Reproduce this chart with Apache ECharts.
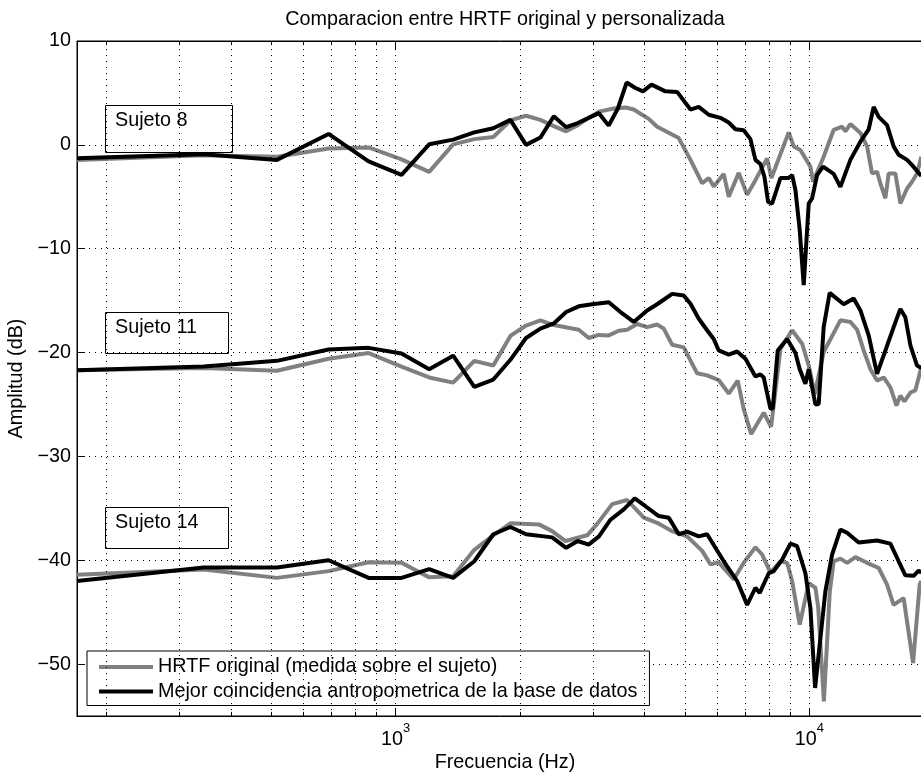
<!DOCTYPE html>
<html>
<head>
<meta charset="utf-8">
<title>Comparacion entre HRTF original y personalizada</title>
<script src="https://cdn.jsdelivr.net/npm/echarts@6/dist/echarts.min.js"></script>
<style>
  html, body { margin: 0; padding: 0; background: #fff; }
  #chart { width: 921px; height: 772px; }
</style>
</head>
<body>
<div id="chart"></div>
<script>
// frecuencias de la rejilla punteada y de las marcas menores (Hz)
var gridFreqs = [200, 300, 400, 500, 600, 700, 800, 900, 1000,
  2000, 3000, 4000, 5000, 6000, 7000, 8000, 9000, 10000];
var minorFreqs = [200, 300, 400, 500, 600, 700, 800, 900,
  2000, 3000, 4000, 5000, 6000, 7000, 8000, 9000];

// Sujeto 8: [Hz, dB]
var g8 = [[170,-1.45],[344,-1.0],[517,-1.15],[689,-0.35],[861,-0.25],[1034,-1.4],[1206,-2.6],[1378,0.05],[1550,0.55],[1723,0.75],[1895,2.35],[2067,2.8],[2239,2.4],[2412,1.8],[2584,1.3],[2756,1.9],[2928,2.6],[3101,3.2],[3368,3.5],[3600,3.6],[3764,3.4],[3907,3.0],[4092,2.5],[4287,1.75],[4834,0.65],[5160,-1.45],[5507,-3.7],[5712,-3.2],[5873,-4.0],[6209,-2.8],[6384,-5.0],[6749,-2.7],[7072,-4.8],[7406,-3.4],[7903,-1.3],[8094,-3.2],[8913,1.2],[9165,-0.15],[9512,-0.5],[10056,-2.1],[10207,-3.55],[10826,-1.15],[11445,1.45],[11995,1.75],[12218,1.3],[12560,2.0],[13280,1.15],[13785,-0.15],[14170,-2.75],[14571,-2.6],[14842,-3.7],[15261,-5.15],[15540,-2.75],[16130,-2.75],[16585,-5.65],[17219,-4.2],[17705,-3.55],[18200,-2.75],[18641,-1.15]];
var b8 = [[170,-1.3],[344,-0.9],[517,-1.45],[689,1.05],[861,-1.6],[1034,-2.9],[1206,0.05],[1378,0.5],[1550,1.2],[1723,1.6],[1895,2.4],[2067,0.0],[2239,0.7],[2412,2.75],[2584,1.7],[2756,2.1],[2928,2.6],[3101,3.05],[3273,1.85],[3445,3.5],[3617,6.0],[3790,5.5],[3962,5.15],[4154,5.8],[4490,5.15],[4791,5.1],[5160,3.4],[5404,3.65],[5712,2.9],[6095,2.6],[6384,2.15],[6627,1.5],[6939,1.4],[7203,0.55],[7406,-1.45],[7613,-1.85],[7785,-3.05],[7947,-5.5],[8126,-5.65],[8511,-3.2],[8913,-3.2],[9083,-2.9],[9252,-4.35],[9475,-8.2],[9688,-13.5],[9962,-5.65],[10150,-5.15],[10437,-2.9],[10792,-2.1],[11445,-2.8],[11881,-4.05],[12560,-1.45],[13280,0.3],[13906,1.5],[14298,3.65],[14703,2.7],[15405,1.9],[15978,-0.15],[16430,-0.95],[17219,-1.45],[17705,-1.95],[18641,-3.0]];

// Sujeto 11
var g11 = [[170,-21.7],[344,-21.5],[517,-21.75],[689,-20.6],[861,-20.05],[1034,-21.35],[1206,-22.4],[1378,-22.9],[1550,-20.8],[1723,-21.25],[1895,-18.4],[2067,-17.4],[2239,-16.9],[2412,-17.35],[2772,-17.8],[2930,-18.6],[3097,-18.3],[3276,-18.35],[3463,-17.9],[3628,-17.8],[3835,-17.25],[4055,-17.55],[4287,-17.3],[4447,-17.7],[4660,-19.25],[4970,-19.5],[5355,-22.0],[5660,-22.2],[6038,-22.65],[6384,-23.95],[6712,-22.7],[6939,-25.45],[7232,-27.85],[7756,-25.8],[8081,-27.15],[8511,-19.65],[9083,-17.85],[9603,-19.15],[9962,-21.25],[10300,-24.0],[10826,-19.95],[11881,-16.9],[12560,-17.05],[13038,-17.8],[13525,-19.8],[14039,-21.6],[14571,-22.7],[15120,-22.4],[15690,-23.35],[16233,-25.1],[16585,-24.15],[16960,-24.7],[17539,-23.85],[18030,-23.65],[18641,-21.4]];
var b11 = [[170,-21.7],[344,-21.35],[517,-20.8],[689,-19.7],[861,-19.55],[1034,-20.1],[1206,-21.6],[1378,-20.3],[1550,-23.3],[1723,-22.6],[1895,-20.7],[2067,-18.6],[2239,-17.7],[2412,-17.2],[2584,-16.1],[2772,-15.55],[2986,-15.35],[3276,-15.15],[3496,-16.1],[3764,-17.05],[4055,-15.95],[4287,-15.35],[4660,-14.35],[4970,-14.5],[5160,-15.3],[5404,-16.75],[5660,-17.85],[5873,-18.7],[6038,-19.8],[6384,-20.2],[6690,-19.9],[7006,-20.6],[7406,-22.3],[7613,-22.1],[7756,-22.4],[8050,-25.4],[8154,-25.4],[8384,-19.8],[8834,-18.7],[9252,-20.05],[9475,-21.6],[9779,-23.0],[9962,-21.6],[10339,-25.0],[10531,-24.95],[10826,-17.55],[11194,-14.25],[12101,-15.35],[12794,-14.8],[13280,-15.95],[13906,-18.35],[14571,-22.05],[15261,-19.8],[15978,-17.55],[16585,-15.8],[17054,-16.6],[17539,-19.3],[18200,-21.25],[18641,-21.5]];

// Sujeto 14
var g14 = [[170,-41.4],[344,-40.9],[517,-41.7],[689,-41.05],[861,-40.2],[1034,-40.25],[1206,-41.65],[1378,-41.55],[1550,-39.0],[1723,-37.6],[1895,-36.45],[2219,-36.55],[2390,-37.2],[2574,-38.15],[2904,-37.6],[3071,-36.5],[3338,-34.6],[3628,-34.2],[3979,-35.9],[4287,-36.4],[4660,-37.2],[5065,-37.7],[5507,-39.1],[5767,-40.4],[6038,-40.2],[6564,-41.85],[6939,-40.25],[7406,-38.75],[7687,-39.45],[8050,-41.2],[8511,-40.1],[8834,-40.25],[9083,-42.0],[9475,-46.2],[9962,-42.2],[10339,-42.65],[10500,-44.5],[10839,-53.6],[11200,-43.0],[11445,-40.1],[11881,-39.85],[12333,-40.25],[12915,-39.7],[13785,-40.25],[14703,-40.75],[15405,-42.35],[15978,-44.3],[16894,-43.65],[17803,-49.9],[18466,-42.35],[18641,-42.0]];
var b14 = [[170,-42.0],[344,-40.7],[517,-40.7],[689,-40.0],[861,-41.7],[1034,-41.7],[1206,-40.85],[1378,-41.7],[1550,-40.1],[1723,-37.5],[1895,-36.8],[2067,-37.5],[2390,-37.8],[2584,-38.8],[2756,-38.15],[2928,-38.5],[3101,-37.7],[3307,-36.1],[3560,-35.1],[3784,-34.05],[4017,-34.8],[4325,-35.75],[4572,-35.9],[4834,-37.5],[5065,-37.25],[5404,-37.7],[5660,-37.5],[6209,-40.1],[6690,-42.0],[7072,-44.3],[7406,-42.65],[7585,-43.15],[7975,-41.25],[8200,-41.05],[8592,-39.95],[8998,-38.4],[9339,-38.65],[9779,-41.25],[10056,-44.6],[10322,-52.3],[10929,-43.0],[11345,-39.45],[11881,-37.05],[12333,-37.35],[13155,-38.3],[14571,-38.1],[15690,-38.4],[16430,-40.1],[17054,-41.45],[17860,-41.5],[18365,-41.0],[18641,-41.2]];

var FONT = '"Liberation Sans", Arial, Helvetica, sans-serif';
var FS = 19.8;
var GRAY = '#808080';
var Y_MIN = -55, Y_MAX = 10;
var nameOrig = 'HRTF original (medida sobre el sujeto)';
var nameMatch = 'Mejor coincidencia antropometrica de la base de datos';

function curve(name, data, color) {
  return {
    name: name, type: 'line', data: data, xAxisIndex: 0,
    symbol: 'none', showSymbol: false, silent: true,
    lineStyle: { width: 4, color: color },
    itemStyle: { color: color },
    z: 3
  };
}

// cuadro de texto "Sujeto N"
function noteBox(x, y, w, h, label, ty) {
  return {
    type: 'group', z: 100,
    children: [
      { type: 'rect', shape: { x: x + 0.5, y: y + 0.5, width: w, height: h },
        style: { fill: '#fff', stroke: '#000', lineWidth: 1 } },
      { type: 'text', x: x + 10, y: ty,
        style: { text: label, fill: '#000', font: FS + 'px ' + FONT, verticalAlign: 'middle' } }
    ]
  };
}

function logAxis(pos) {
  return {
    type: 'log', logBase: 10, min: 170, max: 20000, position: pos,
    axisLine: { show: true, onZero: false, lineStyle: { color: '#000', width: 1 } },
    axisTick: { show: true, inside: true, length: 8, lineStyle: { color: '#000' } },
    splitLine: { show: false },
    axisLabel: { show: false }
  };
}

var xBottom = logAxis('bottom');
xBottom.axisLabel = {
  show: true, margin: 6, showMinLabel: false, showMaxLabel: false,
  formatter: function (v) {
    return '{b|10}{e|' + Math.round(Math.log10(v)) + '}';
  },
  rich: {
    b: { fontSize: FS, fontFamily: FONT, color: '#000', lineHeight: 20 },
    e: { fontSize: 13, fontFamily: FONT, color: '#000', padding: [0, 0, 22, 0] }
  }
};
var xTop = logAxis('top');

// marcas menores (abajo y arriba), longitud ~4 px en dB
var tickLen = 0.4;
var minorTickLines = [];
minorFreqs.forEach(function (f) {
  minorTickLines.push([{ coord: [f, Y_MIN] }, { coord: [f, Y_MIN + tickLen] }]);
  minorTickLines.push([{ coord: [f, Y_MAX] }, { coord: [f, Y_MAX - tickLen] }]);
});

var chart = echarts.init(document.getElementById('chart'));
chart.setOption({
  animation: false,
  backgroundColor: '#fff',
  textStyle: { fontFamily: FONT },
  title: {
    text: 'Comparacion entre HRTF original y personalizada',
    left: 505, top: 10, padding: 0, textAlign: 'center',
    textStyle: { fontSize: FS, fontWeight: 'normal', color: '#000', fontFamily: FONT }
  },
  grid: {
    left: 77, right: -13, top: 41, bottom: 56,
    outerBoundsMode: 'none',
    show: true, borderColor: '#000', borderWidth: 1
  },
  legend: {
    data: [nameOrig, nameMatch],
    orient: 'vertical', left: 87, top: 651,
    padding: [6, 12, 4, 12], itemGap: 4.5, itemWidth: 54, itemHeight: 4,
    icon: 'rect',
    backgroundColor: '#fff', borderColor: '#000', borderWidth: 1,
    selectedMode: false,
    textStyle: { fontSize: FS, color: '#000', fontFamily: FONT }
  },
  xAxis: [xBottom, xTop],
  yAxis: {
    type: 'value', min: Y_MIN, max: Y_MAX,
    name: 'Amplitud (dB)', nameLocation: 'middle', nameGap: 49,
    nameTextStyle: { fontSize: FS, color: '#000', fontFamily: FONT },
    axisLine: { show: true, onZero: false, lineStyle: { color: '#000', width: 1 } },
    axisTick: { show: true, inside: true, length: 8, lineStyle: { color: '#000' } },
    axisLabel: {
      margin: 6, color: '#000', fontSize: FS, fontFamily: FONT, showMinLabel: false,
      formatter: function (v) { return v < 0 ? '\u2212' + Math.abs(v) : String(v); }
    },
    splitLine: { show: true, lineStyle: { type: [1, 5], color: '#000', width: 1 } }
  },
  graphic: [
    noteBox(105, 105, 127, 47, 'Sujeto 8', 121),
    noteBox(105, 312, 123, 41, 'Sujeto 11', 328),
    noteBox(105, 507, 123, 41, 'Sujeto 14', 523),
    { type: 'text', x: 505, y: 763, z: 100,
      style: { text: 'Frecuencia (Hz)', fill: '#000', font: FS + 'px ' + FONT,
        align: 'center', verticalAlign: 'middle' } }
  ],
  series: [
    {
      name: 'rejilla', type: 'line', data: [], silent: true,
      markLine: {
        silent: true, symbol: ['none', 'none'], animation: false,
        label: { show: false },
        lineStyle: { type: [1, 5], color: '#000', width: 1 },
        data: gridFreqs.map(function (f) { return { xAxis: f }; })
      }
    },
    {
      name: 'marcas', type: 'line', data: [], silent: true,
      markLine: {
        silent: true, symbol: ['none', 'none'], animation: false,
        label: { show: false },
        lineStyle: { type: 'solid', color: '#000', width: 1 },
        data: minorTickLines
      }
    },
    curve(nameOrig, g8, GRAY),
    curve(nameMatch, b8, '#000'),
    curve(nameOrig, g11, GRAY),
    curve(nameMatch, b11, '#000'),
    curve(nameOrig, g14, GRAY),
    curve(nameMatch, b14, '#000')
  ]
});
</script>
</body>
</html>
